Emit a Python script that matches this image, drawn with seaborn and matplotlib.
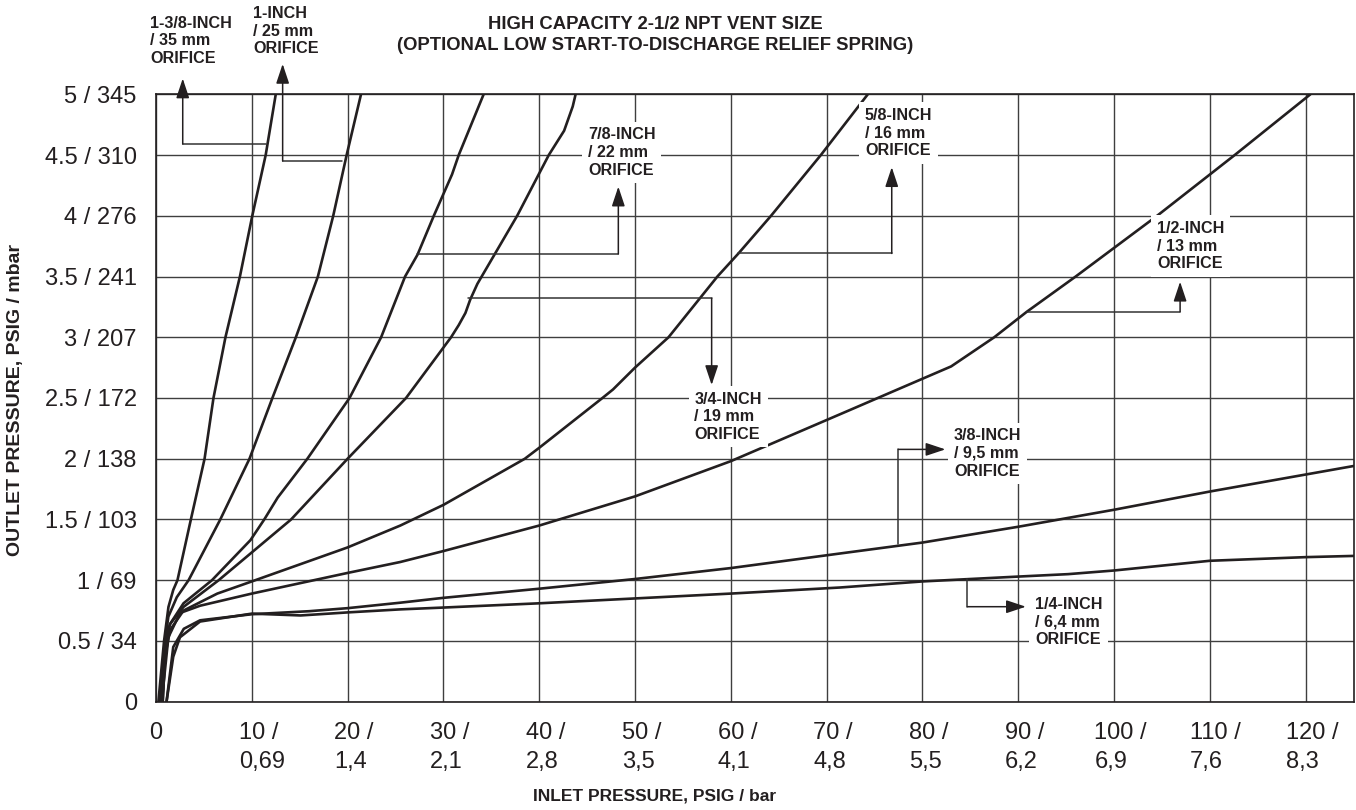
import matplotlib
matplotlib.use("Agg")
import matplotlib.pyplot as plt
import seaborn as sns
from matplotlib.transforms import ScaledTranslation

sns.set_theme(style="white")
plt.rcParams["font.family"] = ["Liberation Sans", "DejaVu Sans"]

INK = "#231f20"
GRID = "#3f3f3f"

# ---------------- data ----------------
inlet_ticks = [0, 10, 20, 30, 40, 50, 60, 70, 80, 90, 100, 110, 120]
inlet_bar = ["", "0,69", "1,4", "2,1", "2,8", "3,5", "4,1", "4,8", "5,5", "6,2", "6,9", "7,6", "8,3"]
outlet_ticks = [0, 0.5, 1, 1.5, 2, 2.5, 3, 3.5, 4, 4.5, 5]
outlet_mbar = ["", "34", "69", "103", "138", "172", "207", "241", "276", "310", "345"]

o138_x = [0.25, 0.84, 1.3, 1.8, 2.24, 3.64, 5.07, 6.0, 7.25, 8.76, 10.05, 11.45, 12.5]
o138_y = [0.0, 0.5, 0.78, 0.92, 1.0, 1.5, 2.0, 2.5, 3.0, 3.5, 4.0, 4.5, 5.0]

o1_x = [0.42, 0.94, 1.29, 2.17, 3.4, 6.71, 9.76, 12.15, 14.6, 16.9, 18.5, 19.9, 21.4]
o1_y = [0.0, 0.5, 0.70, 0.86, 1.0, 1.5, 2.0, 2.5, 3.0, 3.5, 4.0, 4.5, 5.0]

o78_x = [0.6, 0.94, 1.47, 2.87, 5.84, 9.86, 11.3, 12.7, 15.8, 20.2, 23.5, 26.0, 27.3, 29.0, 30.9, 31.6, 34.2]
o78_y = [0.0, 0.5, 0.64, 0.81, 1.0, 1.33, 1.5, 1.68, 2.0, 2.5, 3.0, 3.5, 3.68, 4.0, 4.34, 4.5, 5.0]

o34_x = [0.7, 1.0, 1.47, 2.87, 6.54, 14.1, 20.0, 26.1, 30.8, 31.6, 32.3, 32.8, 33.55, 37.7, 41.0, 42.6, 43.5, 43.8]
o34_y = [0.0, 0.5, 0.64, 0.78, 1.0, 1.5, 2.0, 2.5, 3.0, 3.1, 3.2, 3.31, 3.44, 4.0, 4.5, 4.7, 4.9, 5.0]

o58_x = [0.7, 0.94, 1.47, 2.87, 6.4, 10.0, 20.0, 25.5, 30.0, 38.5, 40.0, 46.6, 47.7, 50.0, 53.5, 58.6, 60.8, 64.2, 69.4, 74.3]
o58_y = [0.0, 0.37, 0.59, 0.75, 0.89, 0.99, 1.27, 1.45, 1.62, 2.0, 2.09, 2.5, 2.57, 2.75, 3.0, 3.5, 3.69, 4.0, 4.5, 5.0]

o12_x = [0.6, 1.29, 2.5, 4.6, 10.0, 20.0, 25.5, 30.0, 40.0, 50.0, 60.0, 72.4, 77.4, 83.0, 87.5, 90.9, 96.0, 104.5, 112.6, 120.5]
o12_y = [0.0, 0.53, 0.73, 0.79, 0.89, 1.06, 1.15, 1.24, 1.45, 1.69, 1.98, 2.40, 2.57, 2.76, 3.0, 3.21, 3.5, 4.0, 4.5, 5.0]

o38_x = [1.1, 1.8, 2.9, 4.6, 10.0, 16.0, 20.0, 25.5, 30.0, 40.0, 50.0, 60.0, 71.4, 80.0, 90.0, 100.0, 110.0, 120.0, 125.0]
o38_y = [0.0, 0.45, 0.60, 0.67, 0.72, 0.745, 0.77, 0.815, 0.855, 0.93, 1.01, 1.10, 1.22, 1.31, 1.44, 1.58, 1.73, 1.87, 1.94]

o14_x = [1.1, 1.8, 2.5, 4.6, 10.0, 15.1, 20.0, 25.5, 30.0, 40.0, 50.0, 60.0, 71.4, 80.0, 90.0, 95.2, 100.0, 110.0, 120.0, 125.0]
o14_y = [0.0, 0.37, 0.53, 0.66, 0.725, 0.71, 0.735, 0.76, 0.775, 0.81, 0.85, 0.89, 0.94, 0.99, 1.03, 1.05, 1.08, 1.16, 1.19, 1.20]

curves = [
    ("1-3/8-INCH\n/ 35 mm\nORIFICE", o138_x, o138_y),
    ("1-INCH\n/ 25 mm\nORIFICE", o1_x, o1_y),
    ("7/8-INCH\n/ 22 mm\nORIFICE", o78_x, o78_y),
    ("3/4-INCH\n/ 19 mm\nORIFICE", o34_x, o34_y),
    ("5/8-INCH\n/ 16 mm\nORIFICE", o58_x, o58_y),
    ("1/2-INCH\n/ 13 mm\nORIFICE", o12_x, o12_y),
    ("3/8-INCH\n/ 9,5 mm\nORIFICE", o38_x, o38_y),
    ("1/4-INCH\n/ 6,4 mm\nORIFICE", o14_x, o14_y),
]

# ---------------- layout of the call-outs (label position, arrow path) ----------------
callouts = [
    # (label left x, label middle-line y, boxed, arrow path: start on curve ... tip)
    (-0.63, 5.44, False, [(11.45, 4.59), (2.79, 4.59), (2.79, 5.13)]),
    (10.16, 5.52, False, [(19.38, 4.45), (13.22, 4.45), (13.22, 5.25)]),
    (45.1, 4.52, True, [(27.2, 3.685), (48.26, 3.685), (48.26, 4.24)]),
    (56.2, 2.346, True, [(32.6, 3.32), (58.0, 3.32), (58.0, 2.607)]),
    (74.0, 4.68, True, [(60.8, 3.69), (76.8, 3.69), (76.8, 4.40)]),
    (104.5, 3.75, True, [(90.9, 3.21), (106.9, 3.21), (106.9, 3.457)]),
    (83.3, 2.044, True, [(77.5, 1.298), (77.5, 2.077), (82.4, 2.077)]),
    (91.75, 0.658, True, [(84.7, 1.007), (84.7, 0.782), (90.8, 0.782)]),
]

W_PX, H_PX = 1356, 810
fig = plt.figure(figsize=(W_PX / 100, H_PX / 100), dpi=100)
ax = fig.add_axes([156 / W_PX, (H_PX - 701.7) / H_PX, (1353.5 - 156) / W_PX, (701.7 - 94.3) / H_PX])

for name, xs, ys in curves:
    sns.lineplot(x=xs, y=ys, ax=ax, color=INK, lw=1.9, sort=False, estimator=None,
                 legend=False, zorder=4, solid_joinstyle="round", solid_capstyle="round")

ax.set_xlim(0, 125)
ax.set_ylim(0, 5)
ax.set_xticks(inlet_ticks)
ax.set_xticklabels(["0"] + [f"{p} /\n{b}" for p, b in zip(inlet_ticks[1:], inlet_bar[1:])])
ax.set_yticks(outlet_ticks)
ax.set_yticklabels(["0"] + [f"{p:g} / {m}" for p, m in zip(outlet_ticks[1:], outlet_mbar[1:])])
ax.set_xlabel("")
ax.set_ylabel("")

ax.grid(True, color=GRID, lw=1.0)
ax.set_axisbelow(True)
for s in ax.spines.values():
    s.set_color(INK)
    s.set_linewidth(1.2)
ax.tick_params(axis="both", length=5.8, width=1.0, color=GRID, labelsize=17,
               labelcolor=INK, direction="out")
ax.tick_params(axis="x", pad=9)
ax.tick_params(axis="y", pad=8)

for lbl, p in zip(ax.get_xticklabels(), inlet_ticks):
    if p == 0:
        continue
    lbl.set_horizontalalignment("left")
    lbl.set_multialignment("left")
    lbl.set_linespacing(1.4)
    dx = len(str(p)) * 0.556 * 17 / 2
    lbl.set_transform(lbl.get_transform() + ScaledTranslation(-dx / 72, 0, fig.dpi_scale_trans))

# call-outs
for (name, _, _), (lx, ly, boxed, path) in zip(curves, callouts):
    kw = dict(ha="left", va="center", fontsize=11.6, fontweight="bold", color=INK,
              linespacing=1.22, zorder=6, clip_on=False)
    if boxed:
        kw["bbox"] = dict(boxstyle="square,pad=0.35", facecolor="white", edgecolor="none")
    ax.text(lx, ly, name, **kw)
    px = [pt[0] for pt in path[:-1]]
    py = [pt[1] for pt in path[:-1]]
    ax.plot(px, py, color="#333333", lw=1.1, clip_on=False, zorder=5)
    ax.annotate("", xy=path[-1], xytext=path[-2], annotation_clip=False, zorder=5,
                arrowprops=dict(arrowstyle="-|>,head_length=0.6,head_width=0.2",
                                color=INK, lw=1.1, shrinkA=0, shrinkB=0,
                                mutation_scale=20))

fig.text(655 / W_PX, 1 - 35 / H_PX,
         "HIGH CAPACITY 2-1/2 NPT VENT SIZE\n(OPTIONAL LOW START-TO-DISCHARGE RELIEF SPRING)",
         ha="center", va="center", fontsize=13.3, fontweight="bold", color=INK, linespacing=1.3)
fig.text(655 / W_PX, 1 - 796 / H_PX, "INLET PRESSURE, PSIG / bar", ha="center", va="center",
         fontsize=12.5, fontweight="bold", color=INK)
fig.text(16 / W_PX, 1 - 400 / H_PX, "OUTLET PRESSURE, PSIG / mbar", ha="center", va="center",
         rotation=90, fontsize=14, fontweight="bold", color=INK)

fig.savefig("out.png", dpi=100, facecolor="white")
